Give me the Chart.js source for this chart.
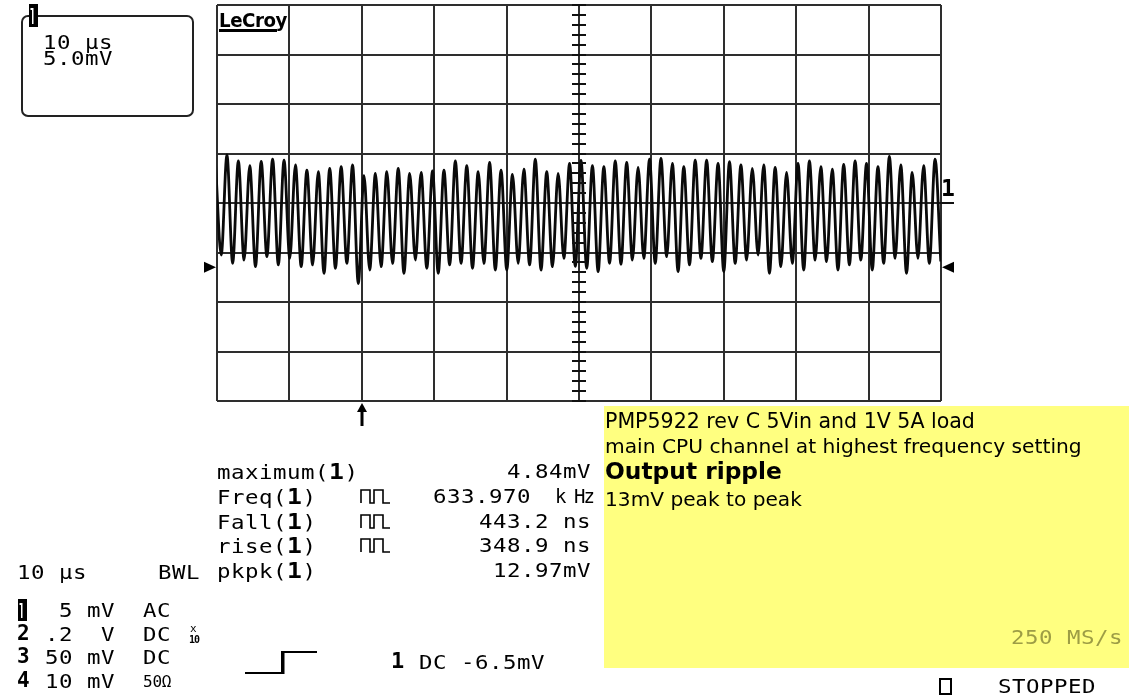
<!DOCTYPE html>
<html>
<head>
<meta charset="utf-8">
<script src="https://cdn.jsdelivr.net/npm/chart.js@4"></script>
<style>
html,body{margin:0;padding:0;background:#fff;width:1129px;height:697px;overflow:hidden;}
#wrap{position:relative;width:1129px;height:697px;}
#c{position:absolute;left:0;top:0;}
#note{position:absolute;left:604px;top:406px;width:525px;height:262px;background:#ffff80;}
.t{position:absolute;white-space:pre;line-height:1;color:#000;margin:0;padding:0;}
</style>
</head>
<body>
<div id="wrap">
  <div id="note"></div>
  <canvas id="c" width="1129" height="697" style="width:1129px;height:697px"></canvas>
</div>
<script>
// ---------------- DATA ----------------
// Channel 1 ripple: alternating peak / trough value of each half cycle, mV (first and last lie just outside the screen)
const ripple_mV = [
  4.0,
  -5.25, 4.85, -6.1, 4.24, -5.76, 3.77, -6.43, 4.2, -5.42, 4.44,
  -6.26, 4.34, -5.59, 3.84, -6.43, 3.33, -6.26, 3.16, -7.1, 3.5,
  -6.6, 3.67, -6.1, 3.84, -8.13, 2.76, -6.77, 3.0, -6.43, 3.16,
  -6.1, 3.5, -7.1, 3.0, -5.76, 3.1, -6.6, 3.23, -7.1, 3.33,
  -6.26, 4.24, -6.1, 3.77, -6.6, 3.16, -6.1, 4.1, -6.77, 3.33,
  -6.77, 2.9, -6.1, 3.43, -6.26, 4.44, -6.77, 3.16, -6.43, 3.0,
  -5.59, 4.0, -6.4, 4.3, -6.6, 3.77, -6.93, 3.67, -6.1, 4.24,
  -6.2, 4.1, -5.76, 3.6, -5.59, 4.44, -6.1, 4.5, -5.42, 4.0,
  -6.93, 3.67, -6.26, 4.34, -5.59, 4.34, -5.93, 4.0, -6.93, 4.17,
  -6.1, 3.84, -5.76, 3.5, -5.25, 3.84, -7.1, 3.6, -6.43, 3.1,
  -6.1, 4.0, -6.77, 4.24, -5.76, 3.67, -5.93, 3.43, -6.77, 3.9,
  -6.26, 4.24, -5.76, 4.0, -6.77, 3.67, -6.1, 4.7, -5.59, 3.84,
  -7.1, 3.1, -5.59, 3.77, -6.1, 4.44, -5.9
];
// half-cycle index of each value above (first one is index -1)
const halfCycleIndex = ripple_mV.map((_, i) => i - 1);
// visible window in half-cycle units (screen edges)
const windowHalfCycles = [-0.74, 126.04];
// screen: 10 divisions of 10 us, 8 divisions of 5 mV
const timeAxis_us = [0, 100];
const timeDiv_us = 10;
const voltAxis_mV = [-20, 20];
const voltDiv_mV = 5;
const triggerLevel_mV = -6.5;
const triggerTime_us = 20;

const measNames = ['maximum(', 'Freq(', 'Fall(', 'rise(', 'pkpk('];
const measValues = ['4.84mV', '633.970', '443.2 ns', '348.9 ns', '12.97mV'];
const noteLines = ['PMP5922 rev C 5Vin and 1V 5A load', 'main CPU channel at highest frequency setting', 'Output ripple', '13mV peak to peak'];

// ---------------- CHART ----------------
const GRID = '#2e2e2e';
const deco = {
  id: 'deco',
  afterDraw(chart) {
    const ctx = chart.ctx, xs = chart.scales.x, ys = chart.scales.y;
    ctx.save();
    ctx.strokeStyle = '#111'; ctx.fillStyle = '#000';
    // centre axis minor ticks
    const cx = Math.round(xs.getPixelForValue((timeAxis_us[0] + timeAxis_us[1]) / 2));
    ctx.lineWidth = 2;
    ctx.beginPath();
    for (let v = voltAxis_mV[0]; v <= voltAxis_mV[1]; v += 1) {
      const y = Math.round(ys.getPixelForValue(v));
      ctx.moveTo(cx - 7, y); ctx.lineTo(cx + 7, y);
    }
    ctx.stroke();
    const right = chart.chartArea.right, left = chart.chartArea.left, bottom = chart.chartArea.bottom;
    // channel 1 ground marker
    const y0 = Math.round(ys.getPixelForValue(0));
    ctx.lineWidth = 2;
    ctx.beginPath(); ctx.moveTo(right - 1, y0); ctx.lineTo(right + 13, y0); ctx.stroke();
    ctx.font = 'bold 23px "DejaVu Sans Mono"';
    ctx.textBaseline = 'alphabetic';
    ctx.fillText('1', right, y0 - 7);
    // trigger level markers
    const yt = ys.getPixelForValue(triggerLevel_mV);
    ctx.beginPath(); ctx.moveTo(left - 13, yt - 5.5); ctx.lineTo(left - 1, yt); ctx.lineTo(left - 13, yt + 5.5); ctx.closePath(); ctx.fill();
    ctx.beginPath(); ctx.moveTo(right + 13, yt - 5.5); ctx.lineTo(right + 1, yt); ctx.lineTo(right + 13, yt + 5.5); ctx.closePath(); ctx.fill();
    // trigger time arrow
    const xt = Math.round(xs.getPixelForValue(triggerTime_us));
    ctx.fillRect(xt - 1.5, bottom + 8, 3, 17);
    ctx.beginPath(); ctx.moveTo(xt, bottom + 2); ctx.lineTo(xt - 5, bottom + 11); ctx.lineTo(xt + 5, bottom + 11); ctx.closePath(); ctx.fill();
    ctx.restore();
    drawStatic(ctx);
  }
};

function badge(ctx, x, y, w, h) {
  ctx.fillStyle = '#000';
  ctx.fillRect(x, y, w, h);
  ctx.fillStyle = '#fff';
  ctx.fillRect(x + 3, y + 4, 1.5, h - 7);
  ctx.fillRect(x + 1.5, y + 4, 1.5, 2);
}

function drawStatic(ctx) {
  ctx.save();
  // top-left rounded box
  ctx.strokeStyle = '#222'; ctx.lineWidth = 2;
  const bx = 22, by = 16, bw = 171, bh = 100, r = 6;
  ctx.beginPath();
  ctx.moveTo(bx + r, by); ctx.lineTo(bx + bw - r, by); ctx.arcTo(bx + bw, by, bx + bw, by + r, r);
  ctx.lineTo(bx + bw, by + bh - r); ctx.arcTo(bx + bw, by + bh, bx + bw - r, by + bh, r);
  ctx.lineTo(bx + r, by + bh); ctx.arcTo(bx, by + bh, bx, by + bh - r, r);
  ctx.lineTo(bx, by + r); ctx.arcTo(bx, by, bx + r, by, r);
  ctx.stroke();
  badge(ctx, 29, 4, 9, 23);
  badge(ctx, 18, 599, 9, 22);
  // LeCroy underline
  ctx.fillStyle = '#000';
  ctx.fillRect(219, 29, 58, 3);
  // pulse icons
  ctx.strokeStyle = '#000'; ctx.lineWidth = 1.6;
  const rows = [503, 528, 552];
  rows.forEach(b => {
    const t = b - 13, x = 361;
    ctx.beginPath();
    ctx.moveTo(x, b); ctx.lineTo(x, t); ctx.lineTo(x + 9, t); ctx.lineTo(x + 9, b); ctx.lineTo(x + 13, b);
    ctx.lineTo(x + 13, t); ctx.lineTo(x + 22, t); ctx.lineTo(x + 22, b); ctx.lineTo(x + 29, b);
    ctx.stroke();
  });
  // trigger slope symbol
  ctx.lineWidth = 2;
  ctx.beginPath(); ctx.moveTo(245, 673); ctx.lineTo(282, 673); ctx.lineTo(282, 652); ctx.lineTo(317, 652); ctx.stroke();
  ctx.fillRect(281, 652, 3.5, 22);
  // STOPPED box
  ctx.lineWidth = 2;
  ctx.strokeRect(940, 679, 11, 15);
  ctx.restore();
}

const ctx = document.getElementById('c').getContext('2d');
new Chart(ctx, {
  type: 'line',
  data: {
    labels: halfCycleIndex,
    datasets: [{
      data: ripple_mV,
      xAxisID: 'k',
      yAxisID: 'y',
      borderColor: '#0a0a0a',
      borderWidth: 2.8,
      pointRadius: 0,
      cubicInterpolationMode: 'monotone',
      clip: 0,
      fill: false
    }]
  },
  options: {
    responsive: false,
    devicePixelRatio: 1,
    animation: false,
    events: [],
    layout: { padding: { left: 217, right: 188, top: 5, bottom: 296 } },
    plugins: { legend: { display: false }, tooltip: { enabled: false }, title: { display: false } },
    scales: {
      k: { type: 'linear', display: false, min: windowHalfCycles[0], max: windowHalfCycles[1], position: 'bottom' },
      x: {
        type: 'linear', position: 'bottom', min: timeAxis_us[0], max: timeAxis_us[1],
        ticks: { display: false, stepSize: timeDiv_us },
        grid: { color: GRID, lineWidth: 2, drawTicks: false },
        border: { display: false }
      },
      y: {
        type: 'linear', position: 'left', min: voltAxis_mV[0], max: voltAxis_mV[1],
        ticks: { display: false, stepSize: voltDiv_mV },
        grid: { color: GRID, lineWidth: 2, drawTicks: false },
        border: { display: false }
      }
    }
  },
  plugins: [deco]
});

// ---------------- TEXT ----------------
const wrap = document.getElementById('wrap');
const MONO = '"DejaVu Sans Mono", monospace';
const PITCH = 14;
const SX = 1.18;
const MFS = 19;
function put(str, x, baseline, o) {
  o = o || {};
  const fs = o.size || MFS;
  const d = document.createElement('div');
  d.className = 't';
  d.textContent = str;
  d.style.fontFamily = o.family || MONO;
  d.style.fontSize = fs + 'px';
  d.style.fontWeight = o.bold ? 'bold' : 'normal';
  const sx = o.sx || ((!o.family && o.ls === undefined) ? SX : 1);
  if (o.ls !== undefined) d.style.letterSpacing = o.ls + 'px';
  else if (!o.family) d.style.letterSpacing = (PITCH / sx - 0.6021 * fs) + 'px';
  if (sx !== 1) { d.style.transformOrigin = '0 0'; d.style.transform = 'scaleX(' + sx + ')'; }
  if (o.color) d.style.color = o.color;
  d.style.left = x + 'px';
  d.style.top = (baseline - 0.846 * fs) + 'px';
  wrap.appendChild(d);
  return d;
}
function putRight(str, rightX, baseline, o) {
  return put(str, rightX - str.length * PITCH + 1, baseline, o);
}
function fitWidth(d, target) {
  const w = d.getBoundingClientRect().width;
  d.style.transformOrigin = '0 0';
  d.style.transform = 'scaleX(' + (target / w) + ')';
}
function fitSize(d, target, baseline) {
  const fs = parseFloat(d.style.fontSize);
  const w = d.getBoundingClientRect().width;
  const nfs = fs * target / w;
  d.style.fontSize = nfs + 'px';
  d.style.top = (baseline - 0.846 * nfs) + 'px';
}

// top-left box
put('10 µs', 43, 49);
put('5.0mV', 43, 65);
// LeCroy logo
fitWidth(put('LeCroy', 219, 27, { family: '"DejaVu Sans", sans-serif', size: 20, bold: true, ls: -0.5 }), 68);

// measurements
const measBase = [478, 503, 528, 552, 577];
measNames.forEach((n, i) => {
  const d = put(n, 217, measBase[i]);
  const b = document.createElement('b'); b.textContent = '1'; b.style.fontSize = '21px';
  d.appendChild(b);
  d.appendChild(document.createTextNode(')'));
  if (i === 1) {
    put(measValues[i], 433, measBase[i]);
    put('k Hz', 555, measBase[i], { ls: -1.9, sx: 1.0001 });
  } else {
    putRight(measValues[i], 590, measBase[i]);
  }
});

// bottom-left channel table
put('10 µs', 17, 579);
put('BWL', 158, 579);
put('  5 mV  AC', 31, 617);
put('2', 17, 641, { bold: true, size: 21, ls: 0 });
put(' .2  V  DC', 31, 641);
put('x', 190, 632, { size: 11, ls: 0 });
put('10', 189, 643, { size: 10, bold: true, ls: -1 });
put('3', 17, 664, { bold: true, size: 21, ls: 0 });
put(' 50 mV  DC', 31, 664);
put('4', 17, 688, { bold: true, size: 21, ls: 0 });
put(' 10 mV', 31, 688);
put('50Ω', 143, 688, { size: 16, ls: -0.2 });

// trigger
put('1', 391, 669, { bold: true, size: 22, ls: 0 });
put('DC -6.5mV', 419, 669);

// note
const noteBase = [428, 453, 480, 506];
const noteW = [370, 477, 177, 197];
noteLines.forEach((s, i) => {
  const d = put(s, 605, noteBase[i], { family: '"DejaVu Sans", sans-serif', size: 17, bold: i === 2, ls: 0 });
  fitSize(d, noteW[i], noteBase[i]);
});
put('250 MS/s', 1011, 644, { color: '#9d9d45' });
put('STOPPED', 998, 693);
</script>
</body>
</html>
